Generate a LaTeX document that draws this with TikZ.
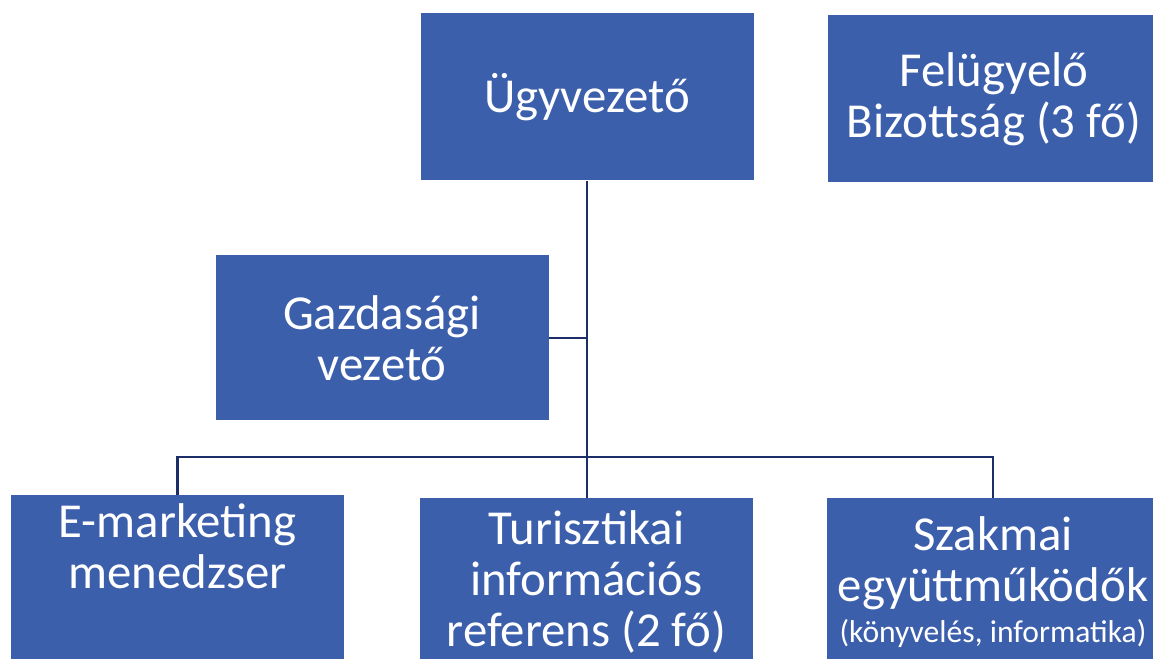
\documentclass[tikz,border=0pt]{standalone}
\usepackage{fontspec}
\setmainfont{Carlito}
\definecolor{boxblue}{RGB}{60,95,172}
\definecolor{linenavy}{RGB}{28,46,104}
\tikzset{
  orgbox/.style={draw=none, fill=boxblue, text=white, anchor=north, align=center,
    minimum width=166.5pt, minimum height=83.5pt, inner sep=0pt,
    font=\fontsize{24.4}{25.5}\selectfont},
  conn/.style={draw=linenavy, line width=1.1pt}
}
\begin{document}
\begin{tikzpicture}[x=0.5pt,y=-0.5pt]
        \useasboundingbox (0,0) rectangle (1153,659);
        \node[orgbox] (uv) at (587,13) {Ügyvezető};
        \node[orgbox] (fb) at (994,15) {Felügyelő\\Bizottság (3 fő)};
        \node[orgbox, minimum height=82.5pt] (gv) at (382,255) {Gazdasági\\vezető};
        \node[orgbox] (em) at (177.5,495) {E-marketing\\menedzser\\\strut};
        \node[orgbox] (ti) at (586.5,498) {Turisztikai\\információs\\referens (2 fő)};
        \node[orgbox] (sz) at (993,498) {Szakmai\\együttműködők\\[-5pt]{\fontsize{15.8}{19}\selectfont(könyvelés, informatika)}};
        % vonalak
        \coordinate (bus) at (0,457);
        \draw[conn] (uv.south) -- (uv.south |- ti.north);
        \draw[conn] (gv.east) -- (gv.east -| uv.south);
        \draw[conn] (em.north) -- (em.north |- bus) -| (sz.north);
        \end{tikzpicture}
\end{document}
